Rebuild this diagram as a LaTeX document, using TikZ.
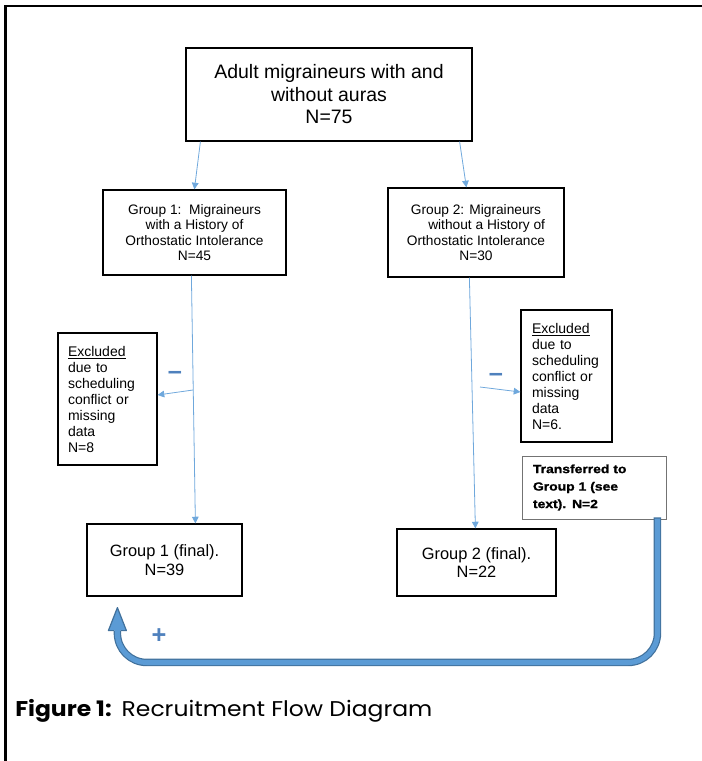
\documentclass[tikz,border=0pt]{standalone}
\usepackage{fontspec}
\setmainfont{Liberation Sans}
\newfontfamily\capfont{Poppins}[FakeStretch=1.1]
\newfontfamily\blackfont{Liberation Sans}[FakeStretch=1.17, FakeBold=1.2]
\usetikzlibrary{arrows.meta,calc}
\definecolor{linkblue}{HTML}{6FA8DC}
\definecolor{signblue}{HTML}{4F81BD}
\definecolor{bendfill}{HTML}{5B9BD5}
\definecolor{bendedge}{HTML}{41719C}

\begin{document}
\begin{tikzpicture}[x=0.75pt, y=-0.75pt,
    box/.style={draw, line width=0.9pt, inner sep=0pt, align=center},
    exbox/.style={draw, line width=0.9pt, inner xsep=7.5pt, inner ysep=0pt, align=left,
        minimum height=99pt, font=\fontsize{10.5}{12}\selectfont},
    link/.style={linkblue, line width=0.6pt, -{Triangle[length=5pt,width=5pt]}},
    sign/.style={text=signblue, inner sep=0pt, font=\fontsize{19}{19}\selectfont\bfseries}]
    \useasboundingbox (0,0) rectangle (702,761);
    \draw [line width=2.2pt] (702,6) -- (5.5,6) -- (5.5,761);
    % boxes
    \node [box, minimum width=214.5pt, minimum height=69.75pt, font=\fontsize{14.6}{16.9}\selectfont] (top) at (329,94.5)
        {Adult migraineurs with and\\without auras\\N=75};
    \node [box, minimum width=137.25pt, minimum height=63.75pt, font=\fontsize{10.3}{11.7}\selectfont] (g1) at (194.5,232.5)
        {Group 1:\ \ Migraineurs\\with a History of\\Orthostatic Intolerance\\N=45};
    \node [box, minimum width=132pt, minimum height=66.75pt, font=\fontsize{10.3}{11.7}\selectfont] (g2) at (476,232.5)
        {Group 2: Migraineurs\\\hspace*{16pt}without a History of\\Orthostatic Intolerance\\N=30};
    \node [exbox, text width=59.25pt] (ex1) at (107.5,399)
        {\underline{Excluded}\\due to\\scheduling\\conflict or\\missing\\data\\N=8};
    \node [exbox, text width=51.75pt, inner xsep=8.25pt] (ex2) at (566.5,376)
        {\underline{Excluded}\\due to\\scheduling\\conflict or\\missing\\data\\N=6.};
    \node [draw=black!55, line width=0.7pt, inner xsep=8.25pt, inner ysep=0pt, minimum height=47.25pt,
        text width=91.5pt, align=left, font=\blackfont\bfseries\fontsize{8.9}{13.1}\selectfont] (trans) at (594,487.5)
        {Transferred to\\Group 1 (see\\text). N=2};
    \node [box, minimum width=116.25pt, minimum height=54pt, font=\fontsize{12.3}{13.8}\selectfont] (g1f) at (164.5,560)
        {Group 1 (final).\\N=39};
    \node [box, minimum width=119.25pt, minimum height=50.25pt, font=\fontsize{12.3}{13.8}\selectfont] (g2f) at (476.5,562.5)
        {Group 2 (final).\\N=22};
    % thin connectors
    \draw [link] ($(top.south west)+(15,0)$) -- ($(g1.north west)+(92,0)$);
    \draw [link] ($(top.south east)+(-13,0)$) -- ($(g2.north west)+(79,0)$);
    \draw [link] ($(g1.south west)+(89,0)$) -- ($(g1f.north west)+(109,0)$);
    \draw [link] ($(g2.south west)+(82,0)$) -- ($(g2f.north west)+(79,0)$);
    \coordinate (exL) at (193,390);
    \coordinate (exR) at (480,387);
    \draw [link] (exL) -- ($(ex1.east)+(0,-4)$);
    \draw [link] (exR) -- ($(ex2.west)+(0,16)$);
    \node [sign] (minusL) at (175,375) {–};
    \node [sign] (minusR) at (496,377) {–};
    % transfer arrow back to group 1
    \coordinate (tStart) at ($(trans.south east)+(-9,-2)$);
    \coordinate (tTip) at ($(g1f.south west)+(31,11)$);
    \coordinate (tBase) at ($(tTip)+(0,23)$);
    \draw [bendedge, line width=5.6pt, rounded corners=22pt] (tStart) -- ++(0,145) -| (tBase);
    \draw [bendfill, line width=3.8pt, rounded corners=22pt, shorten <=0.9pt] (tStart) -- ++(0,145) -| ($(tBase)+(0,-1)$);
    \fill [bendfill] ($(tBase)+(-9,0)$) -- (tTip) -- ($(tBase)+(9,0)$) -- cycle;
    \draw [bendedge, line width=0.9pt, line join=round]
        ($(tBase)+(-3.3,0)$) -- ($(tBase)+(-9,0)$) -- (tTip) -- ($(tBase)+(9,0)$) -- ($(tBase)+(3.3,0)$);
    \node [sign] (plus) at (159,636) {+};
    % caption
    \node [anchor=base west, inner sep=0pt, font=\capfont\fontsize{16}{19}\selectfont] (cap) at (15,716)
        {\bfseries Figure 1:\ \ \mdseries Recruitment Flow Diagram};
\end{tikzpicture}
\end{document}
